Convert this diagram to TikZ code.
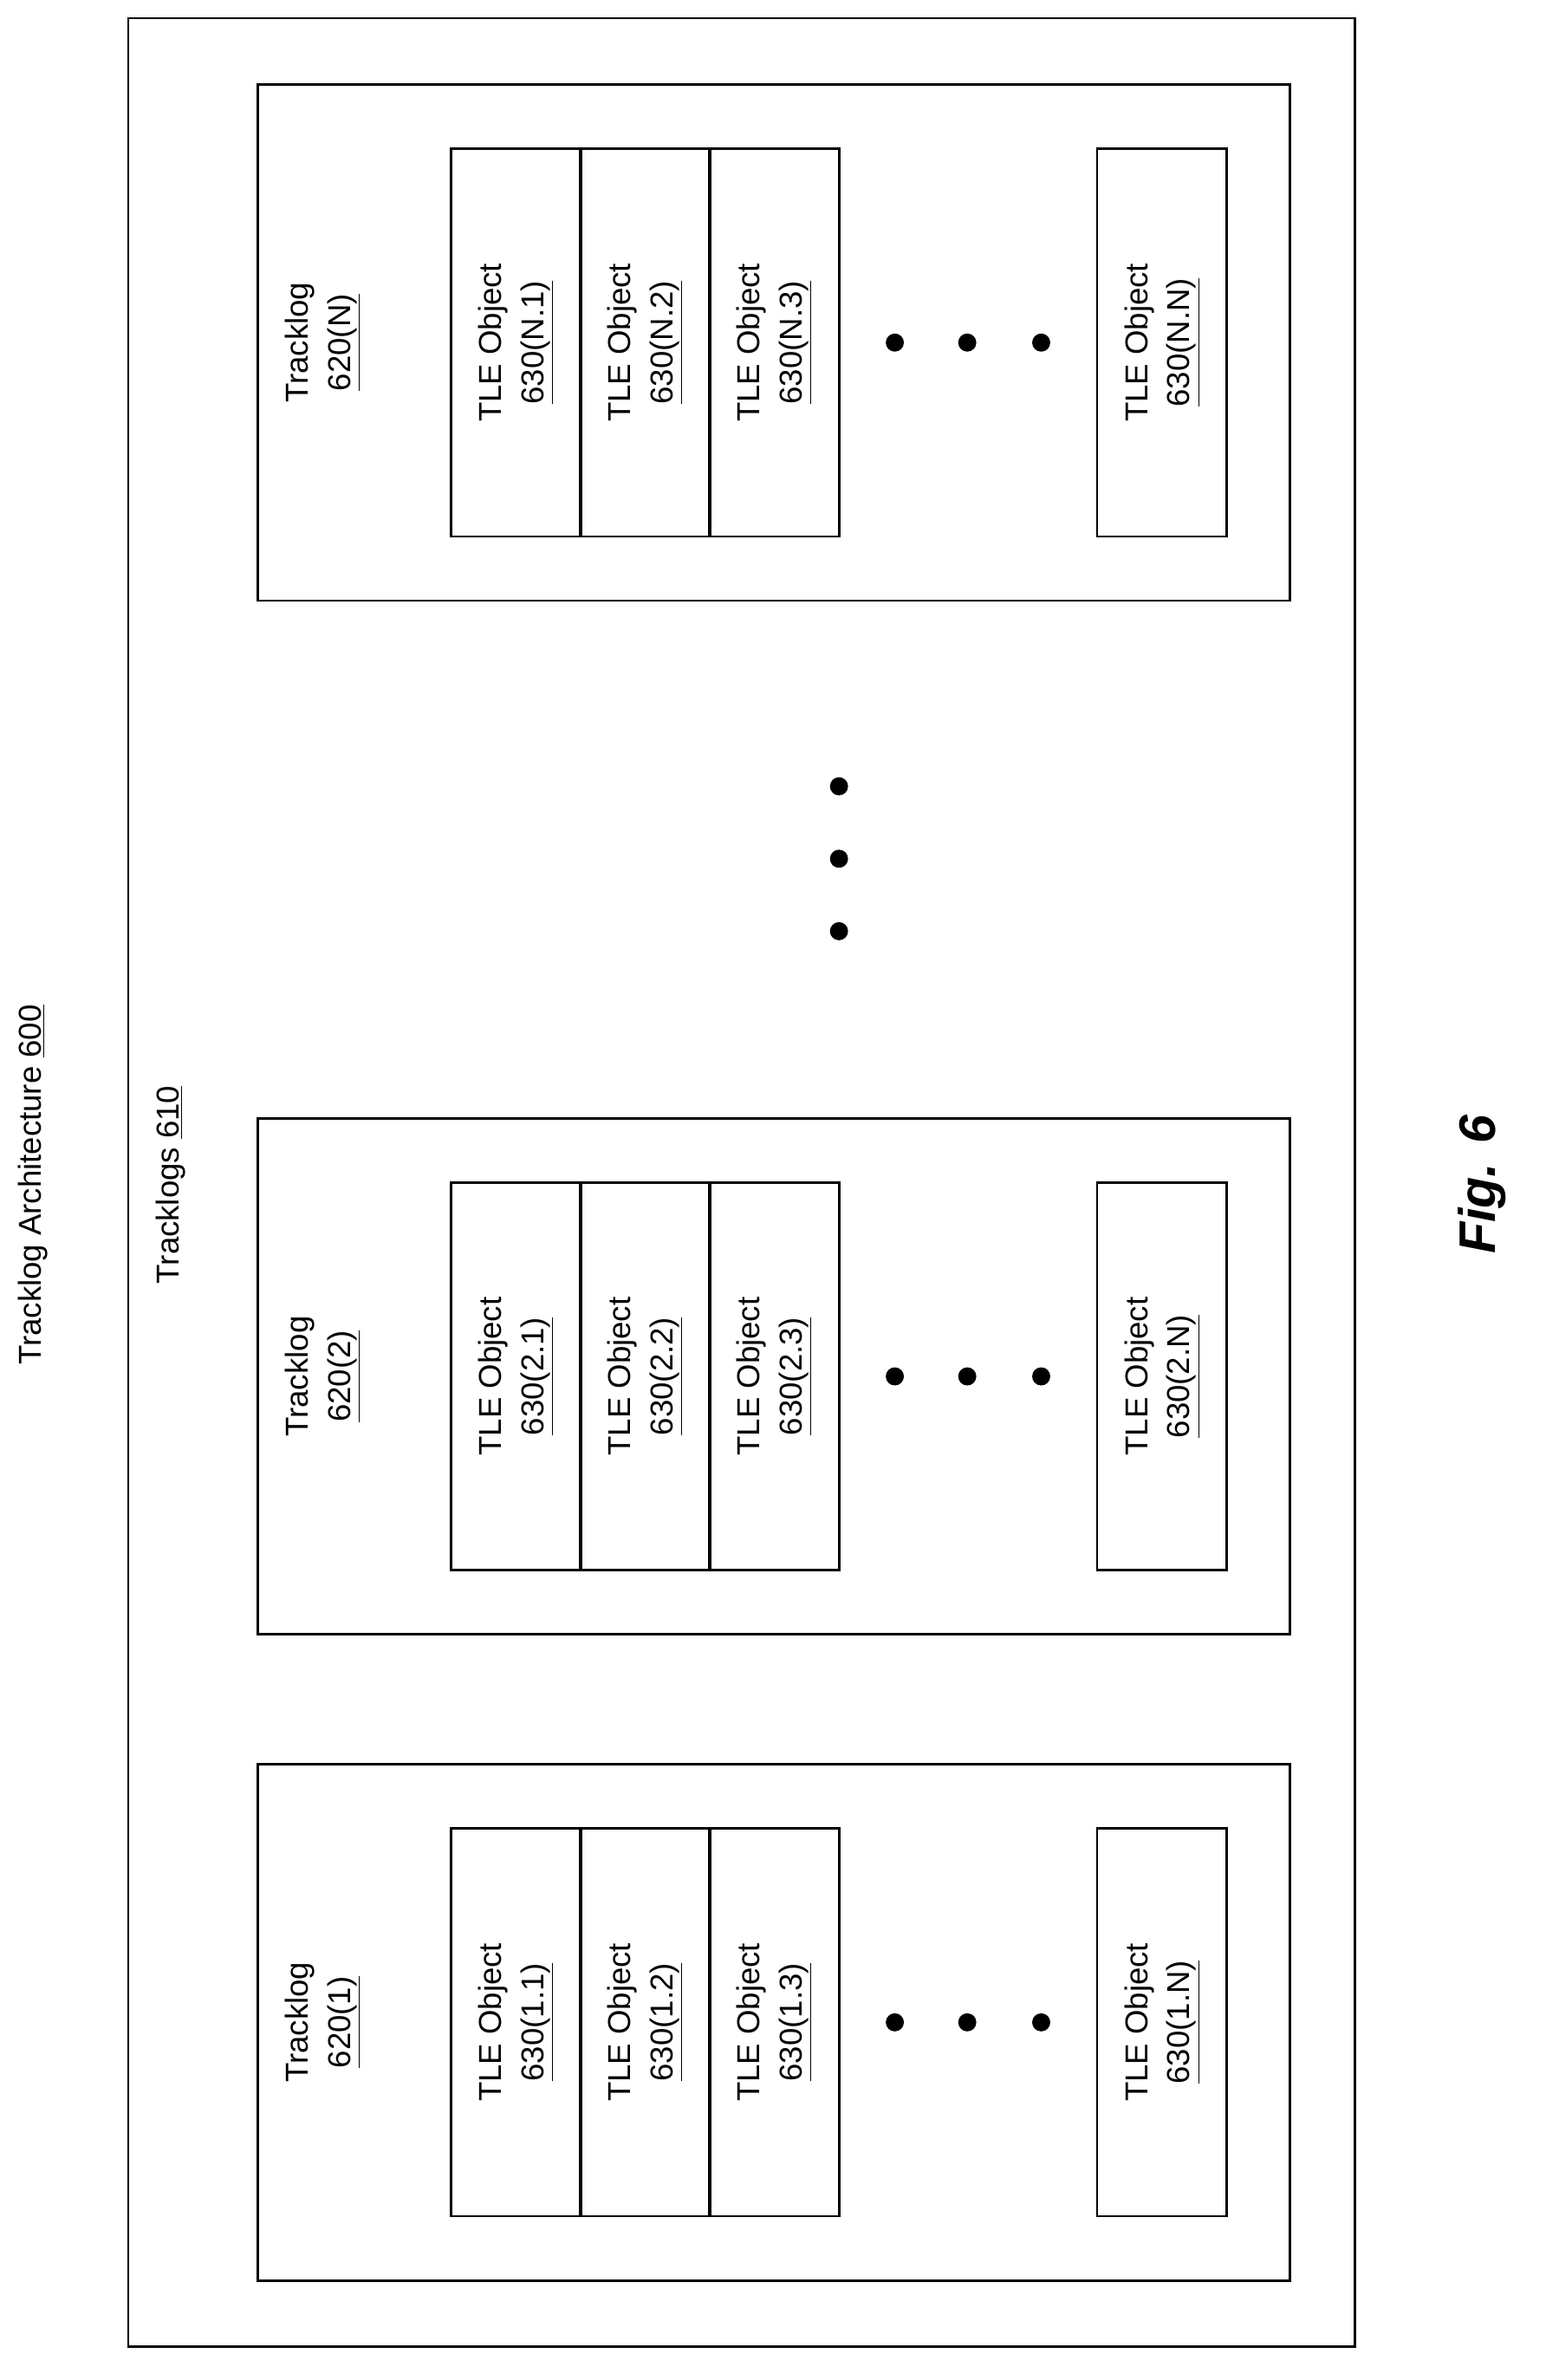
\documentclass[tikz,border=0pt]{standalone}
\usepackage{fontspec}
\setmainfont{Liberation Sans}
\begin{document}
\begin{tikzpicture}[x=1pt,y=-1pt,
  box/.style={draw,line width=1.6pt,inner sep=0pt},
  lbl/.style={rotate=90,align=center,font=\fontsize{21}{28}\selectfont},
  dot/.style={circle,fill,inner sep=0pt,minimum size=12pt}]
\useasboundingbox (0,0) rectangle (1024,1577);
\node[box,minimum width=813pt,minimum height=1543pt] (outer) at (491.5,783.5) {};
\node[lbl] (title) at (22,785) {Tracklog Architecture \underline{600}};
\node[lbl] (tls) at (113,785) {Tracklogs \underline{610}};
\foreach \k/\y in {N/227,2/912,1/1340}{
  \node[box,minimum width=684pt,minimum height=342pt] (tl\k) at (513,\y) {};
  \node[lbl] (tll\k) at (214,\y) {Tracklog\\\underline{620(\k)}};
  \foreach \j/\x in {1/342,2/427.5,3/513}{
    \node[box,minimum width=86pt,minimum height=257pt] (o\k\j) at (\x,\y) {};
    \node[lbl] at (o\k\j) {TLE Object\\\underline{630(\k.\j)}};
  }
  \node[box,minimum width=86pt,minimum height=257pt] (o\k N) at (770,\y) {};
  \node[lbl] at (o\k N) {TLE Object\\\underline{630(\k.N)}};
  \foreach \x in {593,641,690}{\node[dot] at (\x,\y) {};}
}
\foreach \y in {521,569,617}{\node[dot] at (556,\y) {};}
\node[rotate=90,font=\fontsize{34}{40}\selectfont\bfseries\itshape] (fig) at (982,785) {Fig. 6};
\end{tikzpicture}
\end{document}
